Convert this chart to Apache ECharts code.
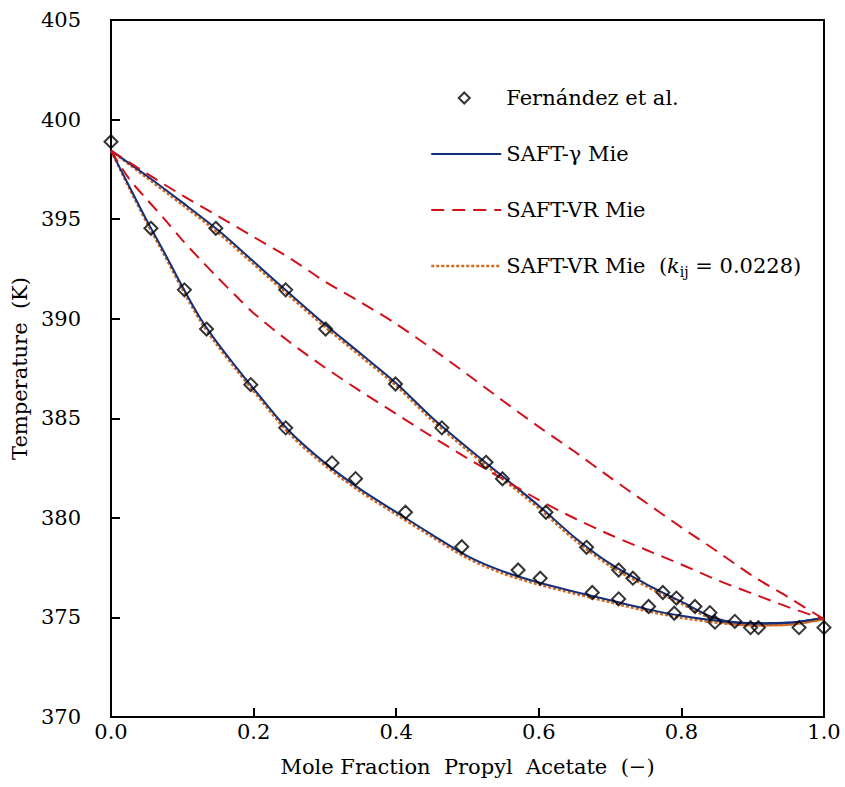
<!DOCTYPE html>
<html>
<head>
<meta charset="utf-8">
<script src="https://cdn.jsdelivr.net/npm/echarts@6/dist/echarts.min.js"></script>
<style>
  html, body { margin: 0; padding: 0; background: #fff; }
  #chart { width: 845px; height: 787px; }
</style>
</head>
<body>
<div id="chart"></div>
<script>
// ---- Data ----
// Experimental points (Fernández et al.): mole fraction and temperature (K)
const expX = [0.0, 0.056, 0.103, 0.134, 0.196, 0.245, 0.310, 0.343, 0.413, 0.492, 0.571, 0.602, 0.675, 0.712, 0.754, 0.790, 0.847, 0.875, 0.897, 0.908, 0.965, 1.0,
              0.147, 0.245, 0.301, 0.399, 0.464, 0.526, 0.549, 0.610, 0.667, 0.712, 0.732, 0.774, 0.793, 0.819, 0.840];
const expT = [398.89, 394.54, 391.45, 389.48, 386.69, 384.52, 382.76, 381.97, 380.28, 378.55, 377.38, 376.97, 376.25, 375.93, 375.55, 375.21, 374.76, 374.80, 374.49, 374.49, 374.49, 374.49,
              394.54, 391.45, 389.48, 386.72, 384.52, 382.79, 381.96, 380.28, 378.52, 377.38, 376.97, 376.25, 375.97, 375.55, 375.24];

// Model curve abscissae
const xFine = [0, 0.025, 0.05, 0.075, 0.1, 0.125, 0.15, 0.175, 0.2, 0.25, 0.3, 0.35, 0.4, 0.45, 0.5, 0.55, 0.6, 0.65, 0.7, 0.75, 0.8, 0.85, 0.9, 0.95, 1.0];
const xCoarse = [0, 0.05, 0.1, 0.15, 0.2, 0.25, 0.3, 0.35, 0.4, 0.45, 0.5, 0.55, 0.6, 0.65, 0.7, 0.75, 0.8, 0.85, 0.9, 0.95, 1.0];

// SAFT-gamma Mie (bubble on xFine, dew on xCoarse)
const gammaBubble = [398.44, 396.69, 394.95, 393.31, 391.62, 390.04, 388.75, 387.60, 386.49, 384.36, 382.76, 381.43, 380.29, 379.16, 378.08, 377.31, 376.75, 376.29, 375.86, 375.43, 375.08, 374.83, 374.70, 374.73, 374.99];
const gammaDew    = [398.44, 397.18, 395.84, 394.45, 392.87, 391.28, 389.72, 388.25, 386.76, 385.04, 383.52, 382.06, 380.61, 379.03, 377.70, 376.69, 375.79, 374.93, 374.71, 374.74, 374.99];

// SAFT-VR Mie (bubble on xFine, dew on xCoarse)
const vrBubble = [398.44, 397.05, 396.00, 395.00, 393.95, 392.98, 392.05, 391.15, 390.28, 388.84, 387.55, 386.36, 385.22, 384.08, 382.99, 381.94, 380.90, 379.98, 379.15, 378.40, 377.66, 376.88, 376.19, 375.52, 374.91];
const vrDew    = [398.44, 397.30, 396.19, 395.16, 394.11, 393.06, 391.87, 390.83, 389.74, 388.50, 387.20, 385.87, 384.57, 383.33, 382.03, 380.77, 379.52, 378.32, 377.08, 376.01, 374.91];

// SAFT-VR Mie with kij = 0.0228 (bubble on xFine, dew on xCoarse)
const kijBubble = [398.44, 396.60, 394.83, 393.18, 391.48, 389.90, 388.62, 387.47, 386.36, 384.23, 382.63, 381.31, 380.17, 379.05, 377.97, 377.20, 376.65, 376.19, 375.76, 375.33, 374.98, 374.73, 374.60, 374.63, 374.92];
const kijDew    = [398.44, 397.08, 395.72, 394.32, 392.74, 391.15, 389.59, 388.12, 386.63, 384.91, 383.39, 381.93, 380.48, 378.90, 377.58, 376.58, 375.69, 374.83, 374.61, 374.64, 374.92];

const nameExp = 'Fernández et al.';
const nameGamma = 'SAFT-γ Mie';
const nameVR = 'SAFT-VR Mie';
const nameKij = 'SAFT-VR Mie (kij = 0.0228)';

const xTicks = { min: 0, max: 1, interval: 0.2 };
const yTicks = { min: 370, max: 405, interval: 5 };

// ---- Build ----
const zip = (xs, ys) => xs.map((x, i) => [x, ys[i]]);
const FONT = 'DejaVu Serif';

const blue = '#14307a';
const red = '#d0101a';
const orange = '#d2691e';

const dashVR = [13, 8];
const dashKij = [3, 2];

const lineBase = { type: 'line', symbol: 'none', smooth: 0.3, z: 2, silent: true };
const legendLinePath = 'path://M0,0 M70,11 M0,5.5 L70,5.5';

const option = {
  animation: false,
  backgroundColor: '#fff',
  grid: { left: 111, right: 21, top: 20, bottom: 70, show: true, borderColor: '#000', borderWidth: 2, backgroundColor: 'transparent' },
  xAxis: {
    type: 'value', min: xTicks.min, max: xTicks.max, interval: xTicks.interval,
    name: 'Mole Fraction  Propyl  Acetate  (−)', nameLocation: 'middle', nameGap: 39,
    nameTextStyle: { fontFamily: FONT, fontSize: 21, color: '#000' },
    axisLine: { lineStyle: { color: '#000', width: 2 } },
    axisTick: { inside: true, length: 9, lineStyle: { color: '#000', width: 2 } },
    axisLabel: { fontFamily: FONT, fontSize: 21, color: '#000', margin: 4, formatter: v => v.toFixed(1) },
    splitLine: { show: false }
  },
  yAxis: {
    type: 'value', min: yTicks.min, max: yTicks.max, interval: yTicks.interval,
    name: 'Temperature  (K)', nameLocation: 'middle', nameGap: 73,
    nameTextStyle: { fontFamily: FONT, fontSize: 21, color: '#000' },
    axisLine: { lineStyle: { color: '#000', width: 2 } },
    axisTick: { inside: true, length: 9, lineStyle: { color: '#000', width: 2 } },
    axisLabel: { fontFamily: FONT, fontSize: 21, color: '#000', margin: 30 },
    splitLine: { show: false }
  },
  legend: {
    orient: 'vertical', left: 425, top: 80, itemWidth: 70, itemHeight: 11, itemGap: 30,
    selectedMode: false,
    textStyle: {
      fontFamily: FONT, fontSize: 21, color: '#000', lineHeight: 26,
      rich: {
        n: { fontFamily: FONT, fontSize: 21, color: '#000', lineHeight: 26 },
        i: { fontFamily: FONT, fontSize: 21, color: '#000', fontStyle: 'italic', lineHeight: 26 },
        s: { fontFamily: FONT, fontSize: 14, color: '#000', lineHeight: 18, verticalAlign: 'bottom' }
      }
    },
    formatter: function (name) {
      if (name === nameKij) return '{n|SAFT-VR Mie  (}{i|k}{s|ij}{n| = 0.0228)}';
      return name;
    },
    data: [
      { name: nameExp, icon: 'path://M0,5.5 M70,5.5 M33,0 L38.5,5.5 L33,11 L27.5,5.5 Z', itemStyle: { color: 'rgba(255,255,255,0)', borderColor: '#000', borderWidth: 2 } },
      { name: nameGamma, icon: legendLinePath, itemStyle: { color: 'rgba(255,255,255,0)', borderColor: blue, borderWidth: 2, borderType: 'solid' } },
      { name: nameVR, icon: legendLinePath, itemStyle: { color: 'rgba(255,255,255,0)', borderColor: red, borderWidth: 2, borderType: dashVR } },
      { name: nameKij, icon: legendLinePath, itemStyle: { color: 'rgba(255,255,255,0)', borderColor: orange, borderWidth: 2.5, borderType: dashKij } }
    ]
  },
  series: [
    Object.assign({}, lineBase, { name: nameKij, data: zip(xFine, kijBubble), lineStyle: { color: orange, width: 2.5, type: dashKij }, itemStyle: { color: orange } }),
    Object.assign({}, lineBase, { name: nameKij, data: zip(xCoarse, kijDew), lineStyle: { color: orange, width: 2.5, type: dashKij }, itemStyle: { color: orange } }),
    Object.assign({}, lineBase, { name: nameGamma, data: zip(xFine, gammaBubble), lineStyle: { color: blue, width: 2 }, itemStyle: { color: blue }, z: 3 }),
    Object.assign({}, lineBase, { name: nameGamma, data: zip(xCoarse, gammaDew), lineStyle: { color: blue, width: 2 }, itemStyle: { color: blue }, z: 3 }),
    Object.assign({}, lineBase, { name: nameVR, data: zip(xFine, vrBubble), lineStyle: { color: red, width: 2, type: dashVR }, itemStyle: { color: red }, z: 4 }),
    Object.assign({}, lineBase, { name: nameVR, data: zip(xCoarse, vrDew), lineStyle: { color: red, width: 2, type: dashVR }, itemStyle: { color: red }, z: 4 }),
    {
      type: 'scatter', name: nameExp, data: zip(expX, expT), symbol: 'diamond', symbolSize: 13, z: 5,
      itemStyle: { color: 'rgba(255,255,255,0)', borderColor: '#000', borderWidth: 2 }
    }
  ]
};

const chart = echarts.init(document.getElementById('chart'), null, { renderer: 'svg' });
chart.setOption(option);
</script>
</body>
</html>
